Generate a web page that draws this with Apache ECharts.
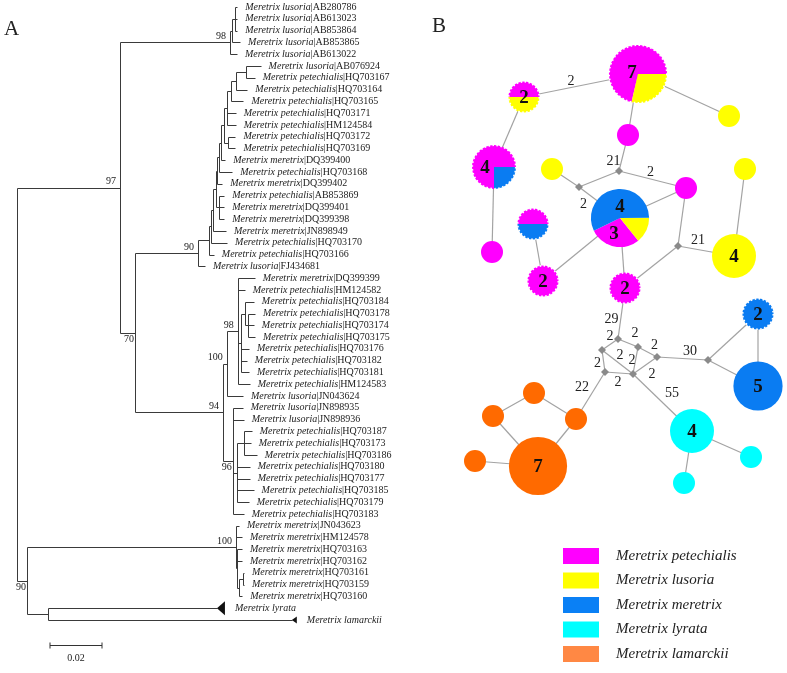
<!DOCTYPE html>
<html><head><meta charset="utf-8">
<script src="https://cdn.jsdelivr.net/npm/echarts@6/dist/echarts.min.js"></script>
<style>html,body{margin:0;padding:0;background:#fff}#c{width:787px;height:673px}</style>
</head><body><div id="c"></div>
<script>
// ================= Panel A: phylogenetic tree data =================
const leafIds = ['AB280786','AB613023','AB853864','AB853865','AB613022','AB076924','HQ703167','HQ703164','HQ703165','HQ703171','HM124584','HQ703172','HQ703169','DQ399400','HQ703168','DQ399402','AB853869','DQ399401','DQ399398','JN898949','HQ703170','HQ703166','FJ434681','DQ399399','HM124582','HQ703184','HQ703178','HQ703174','HQ703175','HQ703176','HQ703182','HQ703181','HM124583','JN043624','JN898935','JN898936','HQ703187','HQ703173','HQ703186','HQ703180','HQ703177','HQ703185','HQ703179','HQ703183','JN043623','HM124578','HQ703163','HQ703162','HQ703161','HQ703159','HQ703160','lyrata','lamarckii'];
const leafSpecies = ['Meretrix lusoria','Meretrix lusoria','Meretrix lusoria','Meretrix lusoria','Meretrix lusoria','Meretrix lusoria','Meretrix petechialis','Meretrix petechialis','Meretrix petechialis','Meretrix petechialis','Meretrix petechialis','Meretrix petechialis','Meretrix petechialis','Meretrix meretrix','Meretrix petechialis','Meretrix meretrix','Meretrix petechialis','Meretrix meretrix','Meretrix meretrix','Meretrix meretrix','Meretrix petechialis','Meretrix petechialis','Meretrix lusoria','Meretrix meretrix','Meretrix petechialis','Meretrix petechialis','Meretrix petechialis','Meretrix petechialis','Meretrix petechialis','Meretrix petechialis','Meretrix petechialis','Meretrix petechialis','Meretrix petechialis','Meretrix lusoria','Meretrix lusoria','Meretrix lusoria','Meretrix petechialis','Meretrix petechialis','Meretrix petechialis','Meretrix petechialis','Meretrix petechialis','Meretrix petechialis','Meretrix petechialis','Meretrix petechialis','Meretrix meretrix','Meretrix meretrix','Meretrix meretrix','Meretrix meretrix','Meretrix meretrix','Meretrix meretrix','Meretrix meretrix','Meretrix lyrata','Meretrix lamarckii'];
const collapsedClades = ['lyrata','lamarckii'];
const treeNewick =
 "(((((AB280786:0.0008,AB613023:0.0008,AB853864:0.0008):0.0012,AB853865:0.0031):0.0008,AB613022:0.0027)98:0.0423," +
 "((((((((((((((AB076924:0.0058,HQ703167:0.0035):0.0035,HQ703164:0.0042):0.0019,HQ703165:0.0046):0.0019,HQ703171:0.0035,HM124584:0.0035):0.0008," +
 "(HQ703172:0.0027,HQ703169:0.0027):0.0015):0.0012,DQ399400:0.0015):0.0008,HQ703168:0.005):0.0008,DQ399402:0.0019):0.0004," +
 "(AB853869:0.0019,DQ399401:0.0019,DQ399398:0.0019):0.0012):0.0012,JN898949:0.005):0.0008,HQ703170:0.0062):0.0008,HQ703166:0.0019):0.0042,FJ434681:0.0027)90:0.0242," +
 "(((DQ399399:0.0065,HM124582:0.0027,((HQ703184:0.0035,(HQ703178:0.0027,HQ703174:0.0023,HQ703175:0.0027):0.0012):0.0015,HQ703176:0.0031,HQ703182:0.0023,HQ703181:0.0031):0.0012,HM124583:0.0046)98:0.0042,JN043624:0.0062)100:0.0015," +
 "(JN898935:0.0038,JN898936:0.0042,((HQ703187:0.0031,HQ703173:0.0027,HQ703186:0.005):0.0027,HQ703180:0.005,HQ703177:0.005,HQ703185:0.0065,HQ703179:0.0046):0.0015,HQ703183:0.0042)96:0.0038)94:0.0338)70:0.0058)97:0.0396," +
 "((JN043623:0.0012,HM124578:0.0023,(HQ703163:0.0019,HQ703162:0.0019,((HQ703161:0.0004,HQ703159:0.0004):0.0015,HQ703160:0.0012):0.0008):0.0004)100:0.0804," +
 "(lyrata:0.065,lamarckii:0.0938):0.0081)90:0.0038);";
const scaleBarLength = 0.02;
const scaleBarLabel = '0.02';

// ================= Panel B: haplotype network data =================
const species = ['Meretrix petechialis','Meretrix lusoria','Meretrix meretrix','Meretrix lyrata','Meretrix lamarckii'];
const hapIds = ['P7','P2a','P4','M1','Y1','Y2','Y3','M2','CEN','PMB','M3','P2b','P2c','Y4','B2','B5','C4','Cy1','Cy2','O1','O2','O3','O7','O4','mv1','mv2','mv3','mvA','mvB','mvC','mvD','mvE','mvF','mvG'];
// counts per species: [petechialis, lusoria, meretrix, lyrata, lamarckii]
const hapCounts = [[5,2,0,0,0],[1,1,0,0,0],[3,0,1,0,0],[1,0,0,0,0],[0,1,0,0,0],[0,1,0,0,0],[0,1,0,0,0],[1,0,0,0,0],[2,1,4,0,0],[1,0,1,0,0],[1,0,0,0,0],[2,0,0,0,0],[2,0,0,0,0],[0,4,0,0,0],[0,0,2,0,0],[0,0,5,0,0],[0,0,0,4,0],[0,0,0,1,0],[0,0,0,1,0],[0,0,0,0,1],[0,0,0,0,1],[0,0,0,0,1],[0,0,0,0,7],[0,0,0,0,1],
  [0,0,0,0,0],[0,0,0,0,0],[0,0,0,0,0],[0,0,0,0,0],[0,0,0,0,0],[0,0,0,0,0],[0,0,0,0,0],[0,0,0,0,0],[0,0,0,0,0],[0,0,0,0,0]];
const hapNumbers = {P7:['7'],P2a:['2'],P4:['4'],CEN:['4','3'],P2b:['2'],P2c:['2'],Y4:['4'],B2:['2'],B5:['5'],C4:['4'],O7:['7']};
const links = [['P2a','P7','2'],['P7','Y1',''],['P7','M1',''],['M1','mv1','21'],['mv1','mv2',''],['mv1','M2','2'],['mv2','Y2',''],['mv2','CEN','2'],['CEN','M2',''],['P2a','P4',''],['P4','M3',''],['M2','mv3',''],['Y3','Y4',''],['mv3','Y4','21'],['mv3','P2c',''],['CEN','P2c',''],['CEN','P2b',''],['PMB','P2b',''],['P2c','mvA','29'],['mvA','mvB','2'],['mvA','mvC','2'],['mvC','mvD','2'],['mvB','mvE','2'],['mvB','mvF','2'],['mvC','mvF','2'],['mvE','mvF','2'],['mvF','mvD','2'],['mvD','mvG','30'],['mvG','B2',''],['mvG','B5',''],['B2','B5',''],['mvE','O3','22'],['mvF','C4','55'],['C4','Cy1',''],['C4','Cy2',''],['O1','O2',''],['O1','O3',''],['O2','O7',''],['O3','O7',''],['O4','O7','']];

// ================= layout / style =================
const hapLayout = {P7:[638,74],P2a:[524,97],P4:[494,167],M1:[628,135],Y1:[729,116],Y2:[552,169],Y3:[745,169],M2:[686,188],CEN:[620,218],PMB:[533,224],M3:[492,252],P2b:[543,281],P2c:[625,288],Y4:[734,256],B2:[758,314],B5:[758,386],C4:[692,431],Cy1:[751,457],Cy2:[684,483],O1:[534,393],O2:[493,416],O3:[576,419],O7:[538,466],O4:[475,461],
  mv1:[619,171],mv2:[579,187],mv3:[678,246],mvA:[618,339],mvB:[602,350],mvC:[638,347],mvD:[657,357],mvE:[605,372],mvF:[633,374],mvG:[708,360]};
const hapStart = {CEN:206};
const hapNumberOffset = {P7:[[-6,-2]],P4:[[-9,0]],CEN:[[0,-12],[-6,15]]};
const dashedOutline = ['P7','P2a','P4','PMB','P2b','P2c','B2'];
const linkLabelOffset = [[-10,-4],null,null,[-10,8],null,[-2,-7],null,[-16,2],null,null,null,null,null,[-8,-11],null,null,null,null,[-10,6],[0,-8],[7,-10],[7,-7],[-6,2],[2.5,-7],[-3.5,0],[-1,9],[7,8.5],[7.5,-7.5],null,null,null,[-8.5,-8.5],[9.5,-9.5],null,null,null,null,null,null,null];
const speciesColors = ['#FF00FF','#FFFF00','#0A7CF2','#00FFFF','#FF6A00'];
const legendColors = ['#FF00FF','#FFFF00','#0A80F5','#00FFFF','#FF8844'];
const SERIF = '"Liberation Serif","Times New Roman",serif';
const PX_PER_UNIT = 2600;

// ================= tree parsing =================
function parseNewick(s) {
  let i = 0;
  function node() {
    const n = {children: [], name: '', len: 0};
    if (s[i] === '(') {
      i++;
      n.children.push(node());
      while (s[i] === ',') { i++; n.children.push(node()); }
      i++;
    }
    let name = '';
    while (i < s.length && ',():;'.indexOf(s[i]) < 0) name += s[i++];
    n.name = name.trim();
    if (s[i] === ':') {
      i++; let num = '';
      while (i < s.length && ',();'.indexOf(s[i]) < 0) num += s[i++];
      n.len = parseFloat(num);
    }
    return n;
  }
  return node();
}
const root = parseNewick(treeNewick);
const segs = [], tips = [], boots = [];
function lay(n, px) {
  n.x = px + n.len;
  if (n.children.length) {
    n.children.forEach(c => lay(c, n.x));
    n.y = (n.children[0].y + n.children[n.children.length - 1].y) / 2;
  } else {
    n.y = leafIds.indexOf(n.name);
  }
}
lay(root, 0);
let bootIdx = 0;
const bootBelow = [2, 7, 8];
function collect(n, parent) {
  if (parent) segs.push([parent.x, n.y, n.x, n.y]);
  if (n.children.length) {
    segs.push([n.x, n.children[0].y, n.x, n.children[n.children.length - 1].y]);
    if (n.name) { boots.push([n.x, n.y, n.name, bootBelow.indexOf(bootIdx) >= 0 ? 1 : 0]); bootIdx++; }
    n.children.forEach(c => collect(c, n));
  } else {
    tips.push([n.x, n.y, leafIds.indexOf(n.name)]);
  }
}
collect(root, null);

// ================= echarts =================
const chart = echarts.init(document.getElementById('c'), null, {renderer: 'canvas'});

const treeLineSeries = {
  type: 'custom', xAxisIndex: 0, yAxisIndex: 0, data: segs, encode: {x: [0, 2], y: [1, 3]}, silent: true,
  renderItem(params, api) {
    const a = api.coord([api.value(0), api.value(1)]);
    const b = api.coord([api.value(2), api.value(3)]);
    const r = v => Math.round(v) + 0.5;
    return {type: 'line', shape: {x1: r(a[0]), y1: r(a[1]), x2: r(b[0]), y2: r(b[1])}, style: {stroke: '#3a3a3a', lineWidth: 1}};
  }
};

const tipSeries = {
  type: 'custom', xAxisIndex: 0, yAxisIndex: 0, data: tips, encode: {x: 0, y: 1}, silent: true,
  renderItem(params, api) {
    const p = api.coord([api.value(0), api.value(1)]);
    const idx = api.value(2);
    const id = leafIds[idx];
    const children = [];
    let tx = p[0] + 8;
    let text;
    if (collapsedClades.indexOf(id) >= 0) {
      const w = id === 'lyrata' ? 8 : 5, h = id === 'lyrata' ? 7 : 3.5;
      children.push({type: 'polygon', shape: {points: [[p[0], p[1]], [p[0] + w, p[1] - h], [p[0] + w, p[1] + h]]}, style: {fill: '#111'}});
      tx = p[0] + w + 10;
      text = '{i|' + leafSpecies[idx] + '}';
    } else {
      text = '{i|' + leafSpecies[idx] + '}{r||' + id + '}';
    }
    children.push({type: 'text', x: tx, y: p[1], style: {
      text: text, fill: '#222', align: 'left', verticalAlign: 'middle', textAlign: 'left', textVerticalAlign: 'middle',
      rich: {i: {fontFamily: SERIF, fontStyle: 'italic', fontSize: 10, fill: '#222'}, r: {fontFamily: SERIF, fontSize: 10, fill: '#222'}}
    }});
    return {type: 'group', children: children};
  }
};

const bootSeries = {
  type: 'custom', xAxisIndex: 0, yAxisIndex: 0, data: boots.map(b => [b[0], b[1], b[3]]), encode: {x: 0, y: 1}, silent: true,
  renderItem(params, api) {
    const p = api.coord([api.value(0), api.value(1)]);
    const below = api.value(2) === 1;
    return {type: 'text', x: p[0] - (below ? 1 : 4), y: below ? p[1] + 2 : p[1] - 1, style: {
      text: boots[params.dataIndex][2], font: '10px ' + SERIF, fill: '#222',
      align: 'right', textAlign: 'right', verticalAlign: below ? 'top' : 'bottom', textVerticalAlign: below ? 'top' : 'bottom'}};
  }
};

const scaleSeries = {
  type: 'custom', xAxisIndex: 0, yAxisIndex: 0, data: [[33 / PX_PER_UNIT, 54.15, scaleBarLength]], encode: {x: 0, y: 1}, silent: true,
  renderItem(params, api) {
    const a = api.coord([api.value(0), api.value(1)]);
    const b = api.coord([api.value(0) + api.value(2), api.value(1)]);
    const y = Math.round(a[1]) + 0.5;
    return {type: 'group', children: [
      {type: 'line', shape: {x1: a[0], y1: y, x2: b[0], y2: y}, style: {stroke: '#333', lineWidth: 1}},
      {type: 'line', shape: {x1: a[0], y1: y - 3, x2: a[0], y2: y + 3}, style: {stroke: '#333', lineWidth: 1}},
      {type: 'line', shape: {x1: b[0], y1: y - 3, x2: b[0], y2: y + 3}, style: {stroke: '#333', lineWidth: 1}},
      {type: 'text', x: (a[0] + b[0]) / 2, y: y + 8, style: {text: scaleBarLabel, font: '10px ' + SERIF, fill: '#222', align: 'center', textAlign: 'center', verticalAlign: 'top', textVerticalAlign: 'top'}}
    ]};
  }
};

const edgeData = links.map((l, k) => [hapLayout[l[0]][0], hapLayout[l[0]][1], hapLayout[l[1]][0], hapLayout[l[1]][1], k]);
const edgeSeries = {
  type: 'custom', xAxisIndex: 1, yAxisIndex: 1, data: edgeData, encode: {x: [0, 2], y: [1, 3]}, silent: true,
  renderItem(params, api) {
    const a = api.coord([api.value(0), api.value(1)]);
    const b = api.coord([api.value(2), api.value(3)]);
    const k = api.value(4);
    const ch = [{type: 'line', shape: {x1: a[0], y1: a[1], x2: b[0], y2: b[1]}, style: {stroke: '#a3a3a3', lineWidth: 1.2}}];
    if (links[k][2]) {
      const off = linkLabelOffset[k] || [0, 0];
      ch.push({type: 'text', x: (a[0] + b[0]) / 2 + off[0], y: (a[1] + b[1]) / 2 + off[1], style: {
        text: links[k][2], font: '14px ' + SERIF, fill: '#222', align: 'center', textAlign: 'center', verticalAlign: 'middle', textVerticalAlign: 'middle'}});
    }
    return {type: 'group', children: ch};
  }
};

const nodeData = hapIds.map((id, i) => [hapLayout[id][0], hapLayout[id][1], i]);
const nodeSeries = {
  type: 'custom', xAxisIndex: 1, yAxisIndex: 1, data: nodeData, encode: {x: 0, y: 1}, silent: true, z: 5,
  renderItem(params, api) {
    const c = api.coord([api.value(0), api.value(1)]);
    const i = api.value(2);
    const id = hapIds[i];
    const counts = hapCounts[i];
    const total = counts.reduce((s, v) => s + v, 0);
    const ch = [];
    if (total === 0) {
      const s = 4;
      ch.push({type: 'polygon', shape: {points: [[c[0], c[1] - s], [c[0] + s, c[1]], [c[0], c[1] + s], [c[0] - s, c[1]]]}, style: {fill: '#8a8a8a'}});
      return {type: 'group', children: ch};
    }
    const r = 11 * Math.sqrt(total);
    let ang = hapStart[id] || 0;
    counts.forEach((v, k) => {
      if (!v) return;
      const a1 = ang, a2 = ang + 360 * v / total;
      ang = a2;
      if (v === total) {
        ch.push({type: 'circle', shape: {cx: c[0], cy: c[1], r: r}, style: {fill: speciesColors[k]}});
      } else {
        ch.push({type: 'sector', shape: {cx: c[0], cy: c[1], r0: 0, r: r, startAngle: -a2 * Math.PI / 180, endAngle: -a1 * Math.PI / 180, clockwise: true}, style: {fill: speciesColors[k]}});
      }
    });
    if (dashedOutline.indexOf(id) >= 0) {
      ch.push({type: 'circle', shape: {cx: c[0], cy: c[1], r: r - 0.3}, style: {fill: 'none', stroke: '#fff', lineWidth: 1.6, lineDash: [1.6, 2.4]}});
    }
    const nums = hapNumbers[id] || [];
    const offs = hapNumberOffset[id] || [];
    nums.forEach((t, j) => {
      const o = offs[j] || [0, 0];
      ch.push({type: 'text', x: c[0] + o[0], y: c[1] + o[1] + 1, style: {text: t, font: 'bold 19px ' + SERIF, fill: '#111', align: 'center', textAlign: 'center', verticalAlign: 'middle', textVerticalAlign: 'middle'}});
    });
    return {type: 'group', children: ch};
  }
};

const legendSeries = species.map((s, k) => ({type: 'scatter', name: s, xAxisIndex: 1, yAxisIndex: 1, data: [], itemStyle: {color: legendColors[k], opacity: 1}}));

chart.setOption({
  animation: false,
  backgroundColor: '#fff',
  title: [
    {text: 'A', left: 4, top: 19, padding: 0, textStyle: {fontFamily: SERIF, fontWeight: 'normal', fontSize: 21, color: '#222'}},
    {text: 'B', left: 432, top: 16, padding: 0, textStyle: {fontFamily: SERIF, fontWeight: 'normal', fontSize: 21, color: '#222'}}
  ],
  grid: [
    {left: 17, top: 7, width: 383, height: 613},
    {left: 400, top: 0, width: 387, height: 673}
  ],
  xAxis: [
    {gridIndex: 0, type: 'value', min: 0, max: 383 / PX_PER_UNIT, show: false},
    {gridIndex: 1, type: 'value', min: 400, max: 787, show: false}
  ],
  yAxis: [
    {gridIndex: 0, type: 'value', min: 0, max: 52, inverse: true, show: false},
    {gridIndex: 1, type: 'value', min: 0, max: 673, inverse: true, show: false}
  ],
  legend: {
    orient: 'vertical', left: 563, top: 548, padding: 0, itemWidth: 36, itemHeight: 16, itemGap: 8.5, icon: 'rect',
    selectedMode: false,
    data: species,
    itemStyle: {opacity: 1},
    textStyle: {fontFamily: SERIF, fontStyle: 'italic', fontSize: 15, color: '#222', lineHeight: 16, padding: [0, 0, 0, 12]}
  },
  series: [treeLineSeries, tipSeries, bootSeries, scaleSeries, edgeSeries, nodeSeries].concat(legendSeries)
});
</script></body></html>
